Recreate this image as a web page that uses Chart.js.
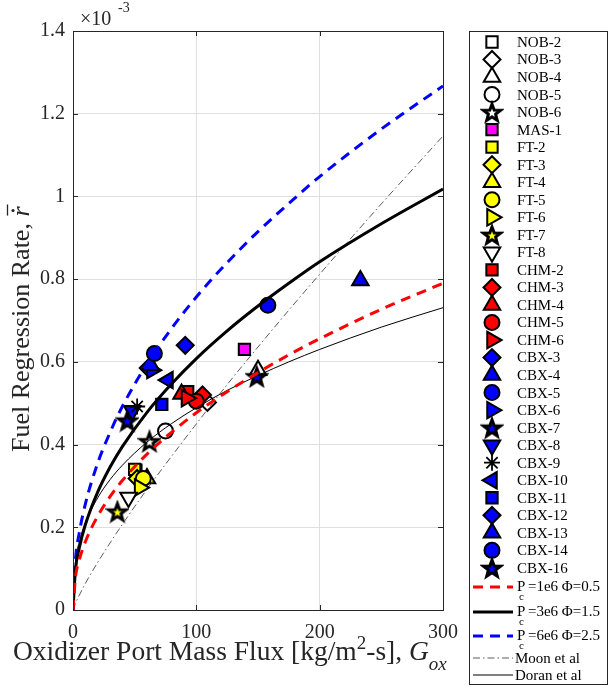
<!DOCTYPE html>
<html>
<head>
<meta charset="utf-8">
<script src="https://cdn.jsdelivr.net/npm/chart.js@4.4.0/dist/chart.umd.min.js"></script>
<style>
  html, body { margin: 0; padding: 0; background: #fff; }
  canvas { display: block; }
</style>
</head>
<body>
<canvas id="rateChart" width="610" height="688"></canvas>
<script>
// test cases (regression rate in 1e-3 units)
const seriesNames = ['NOB-2', 'NOB-3', 'NOB-4', 'NOB-5', 'NOB-6', 'MAS-1',
    'FT-2', 'FT-3', 'FT-4', 'FT-5', 'FT-6', 'FT-7', 'FT-8',
    'CHM-2', 'CHM-3', 'CHM-4', 'CHM-5', 'CHM-6',
    'CBX-3', 'CBX-4', 'CBX-5', 'CBX-6', 'CBX-7', 'CBX-8', 'CBX-9', 'CBX-10',
    'CBX-11', 'CBX-12', 'CBX-13', 'CBX-14', 'CBX-16'];
const seriesFlux = [51, 109, 150, 75, 62, 139,
    50, 52, 60, 57, 54, 36, 45,
    93, 105, 88, 100, 92,
    61, 233, 158, 64, 149, 48, 52, 77,
    72, 91, 63, 66, 44];
const seriesRate = [0.338, 0.502, 0.580, 0.433, 0.408, 0.630,
    0.340, 0.318, 0.318, 0.318, 0.296, 0.238, 0.272,
    0.528, 0.520, 0.522, 0.505, 0.512,
    0.585, 0.797, 0.737, 0.580, 0.565, 0.482, 0.492, 0.556,
    0.497, 0.640, 0.592, 0.620, 0.458];

// model curves
const curveLabels = ['P_c =1e6 \u03A6=0.5', 'P_c =3e6 \u03A6=1.5', 'P_c =6e6 \u03A6=2.5', 'Moon et al', 'Doran et al'];
const curveFlux = [0, 2, 5, 10, 20, 30, 40, 60, 80, 100, 125, 150, 175, 200, 250, 300];
const rate1e6 = [0, 0.079, 0.120, 0.165, 0.227, 0.274, 0.313, 0.377, 0.430, 0.477, 0.528, 0.574, 0.617, 0.656, 0.727, 0.790];
const rate3e6 = [0, 0.097, 0.149, 0.206, 0.285, 0.345, 0.395, 0.478, 0.547, 0.608, 0.675, 0.735, 0.790, 0.842, 0.934, 1.018];
const rate6e6 = [0, 0.121, 0.185, 0.256, 0.355, 0.429, 0.492, 0.595, 0.681, 0.757, 0.840, 0.915, 0.983, 1.048, 1.163, 1.267];
const rateMoon = [0, 0.016, 0.035, 0.064, 0.115, 0.162, 0.207, 0.292, 0.372, 0.450, 0.545, 0.636, 0.725, 0.812, 0.982, 1.146];
const rateDoran = [0, 0.117, 0.163, 0.210, 0.271, 0.315, 0.350, 0.406, 0.451, 0.489, 0.531, 0.567, 0.600, 0.630, 0.684, 0.731];

// axes
const xTicks = [0, 100, 200, 300];
const xTickLabels = ['0', '100', '200', '300'];
const yTicks = [0, 0.2, 0.4, 0.6, 0.8, 1.0, 1.2, 1.4];
const yTickLabels = ['0', '0.2', '0.4', '0.6', '0.8', '1', '1.2', '1.4'];

// marker look per series
const markerKind = ['square', 'diamond', 'triangle', 'circle', 'star', 'square',
    'square', 'diamond', 'triangle', 'circle', 'right', 'star', 'down',
    'square', 'diamond', 'triangle', 'circle', 'right',
    'diamond', 'triangle', 'circle', 'right', 'star', 'down', 'asterisk', 'left',
    'square', 'diamond', 'triangle', 'circle', 'star'];
const markerFace = ['#ffffff', '#ffffff', '#ffffff', '#ffffff', '#ffffff', '#ff00ff',
    '#ffff00', '#ffff00', '#ffff00', '#ffff00', '#ffff00', '#ffff00', '#ffffff',
    '#ff0000', '#ff0000', '#ff0000', '#ff0000', '#ff0000',
    '#0000ff', '#0000ff', '#0000ff', '#0000ff', '#0000ff', '#0000ff', '#000000', '#0000ff',
    '#0000ff', '#0000ff', '#0000ff', '#0000ff', '#0000ff'];

const serif = "'Liberation Serif', 'Times New Roman', serif";

function makeStar(fill) {
    const size = 24;
    const c = document.createElement('canvas');
    c.width = size;
    c.height = size;
    const g = c.getContext('2d');
    const R = 9, r = R * 0.42, cx = size / 2, cy = size / 2 + 1;
    g.beginPath();
    for (let i = 0; i < 10; i++) {
        const ang = -Math.PI / 2 + i * Math.PI / 5;
        const rad = i % 2 ? r : R;
        g.lineTo(cx + rad * Math.cos(ang), cy + rad * Math.sin(ang));
    }
    g.closePath();
    g.fillStyle = fill;
    g.fill();
    g.lineWidth = 3;
    g.lineJoin = 'miter';
    g.strokeStyle = '#000';
    g.stroke();
    return c;
}

function markerStyle(kind, face) {
    switch (kind) {
        case 'square': return { style: 'rect', rot: 0, radius: 8 };
        case 'diamond': return { style: 'rectRot', rot: 0, radius: 8.5 };
        case 'triangle': return { style: 'triangle', rot: 0, radius: 9.5 };
        case 'down': return { style: 'triangle', rot: 180, radius: 9.5 };
        case 'right': return { style: 'triangle', rot: 90, radius: 9.5 };
        case 'left': return { style: 'triangle', rot: 270, radius: 9.5 };
        case 'circle': return { style: 'circle', rot: 0, radius: 7.5 };
        case 'star': return { style: makeStar(face), rot: 0, radius: 10 };
        case 'asterisk': return { style: 'star', rot: 0, radius: 8 };
    }
}

const pointSets = seriesNames.map(function (name, i) {
    const m = markerStyle(markerKind[i], markerFace[i]);
    return {
        type: 'scatter',
        label: name,
        data: [{ x: seriesFlux[i], y: seriesRate[i] }],
        pointStyle: m.style,
        pointRotation: m.rot,
        pointRadius: m.radius,
        pointBackgroundColor: markerFace[i],
        pointBorderColor: '#000000',
        pointBorderWidth: markerKind[i] === 'asterisk' ? 1.8 : 2,
        order: 100 - i // later series sit on top
    };
});

const curveRates = [rate1e6, rate3e6, rate6e6, rateMoon, rateDoran];
const curveLook = [
    { color: '#ff0000', width: 3, dash: [10, 7] },
    { color: '#000000', width: 3, dash: [] },
    { color: '#0000ff', width: 3, dash: [10, 7] },
    { color: '#333333', width: 0.8, dash: [7, 3, 1.5, 3] },
    { color: '#000000', width: 1, dash: [] }
];
const curveSets = curveLabels.map(function (label, k) {
    return {
        type: 'line',
        label: label,
        data: curveFlux.map((g, j) => ({ x: g, y: curveRates[k][j] })),
        borderColor: curveLook[k].color,
        borderWidth: curveLook[k].width,
        borderDash: curveLook[k].dash,
        pointRadius: 0,
        fill: false,
        cubicInterpolationMode: 'monotone',
        order: -10 + k
    };
});

// box, inward ticks, axis titles, exponent and legend
const matlabFrame = {
    id: 'matlabFrame',
    afterDraw(chart) {
        const ctx = chart.ctx;
        const a = chart.chartArea;
        const xs = chart.scales.x, ys = chart.scales.y;
        ctx.save();
        ctx.strokeStyle = '#262626';
        ctx.lineWidth = 1;
        ctx.setLineDash([]);
        ctx.strokeRect(Math.round(a.left) + 0.5, Math.round(a.top) + 0.5,
            Math.round(a.right - a.left), Math.round(a.bottom - a.top));
        ctx.beginPath();
        xTicks.forEach(v => {
            const px = Math.round(xs.getPixelForValue(v)) + 0.5;
            ctx.moveTo(px, a.bottom); ctx.lineTo(px, a.bottom - 5);
            ctx.moveTo(px, a.top); ctx.lineTo(px, a.top + 5);
        });
        yTicks.forEach(v => {
            const py = Math.round(ys.getPixelForValue(v)) + 0.5;
            ctx.moveTo(a.left, py); ctx.lineTo(a.left + 5, py);
            ctx.moveTo(a.right, py); ctx.lineTo(a.right - 5, py);
        });
        ctx.stroke();

        // exponent label
        ctx.fillStyle = '#262626';
        ctx.textBaseline = 'alphabetic';
        ctx.textAlign = 'left';
        ctx.font = '20px ' + serif;
        ctx.fillText('\u00D710', 80, 25);
        ctx.font = '14px ' + serif;
        ctx.fillText('-3', 118, 12);

        // x title
        let x = 13;
        const xb = 660;
        const part = (txt, size, dy, italic) => {
            ctx.font = (italic ? 'italic ' : '') + size + 'px ' + serif;
            ctx.fillText(txt, x, xb + dy);
            x += ctx.measureText(txt).width;
        };
        part('Oxidizer Port Mass Flux [kg/m', 27.5, 0, false);
        part('2', 19, -11, false);
        part('-s], ', 27.5, 0, false);
        part('G', 27.5, 0, true);
        part('ox', 19, 10, true);

        // y title (rotated)
        ctx.save();
        ctx.translate(29, 452);
        ctx.rotate(-Math.PI / 2);
        ctx.font = '26px ' + serif;
        const lead = 'Fuel Regression Rate, ';
        ctx.fillText(lead, 0, 0);
        const w0 = ctx.measureText(lead).width;
        ctx.font = 'italic 26px ' + serif;
        ctx.fillText('r', w0, 0);
        const wr = ctx.measureText('r').width;
        ctx.beginPath();
        ctx.arc(w0 + wr * 0.6, -16, 1.6, 0, Math.PI * 2);
        ctx.fill();
        ctx.lineWidth = 1.3;
        ctx.beginPath();
        ctx.moveTo(w0 + 1, -21.5);
        ctx.lineTo(w0 + wr + 2, -21.5);
        ctx.stroke();
        ctx.restore();

        // legend
        ctx.strokeStyle = '#262626';
        ctx.lineWidth = 1;
        ctx.strokeRect(469.5, 31.5, 138, 653);
        const mx = 492, tx = 517;
        chart.data.datasets.forEach(function (ds, i) {
            if (ds.type !== 'scatter') return;
            const y = 42 + i * 17.53;
            ctx.save();
            ctx.fillStyle = ds.pointBackgroundColor;
            ctx.strokeStyle = ds.pointBorderColor;
            ctx.lineWidth = ds.pointBorderWidth;
            Chart.helpers.drawPoint(ctx, {
                pointStyle: ds.pointStyle,
                rotation: ds.pointRotation,
                radius: ds.pointRadius,
                borderWidth: ds.pointBorderWidth
            }, mx, y);
            ctx.restore();
            ctx.fillStyle = '#000';
            ctx.font = '15px ' + serif;
            ctx.textBaseline = 'middle';
            ctx.fillText(ds.label, tx, y + 1);
        });
        const rowY = [587, 612, 636, 658, 675];
        curveSets.forEach(function (ds, k) {
            const y = rowY[k];
            ctx.save();
            ctx.strokeStyle = ds.borderColor;
            ctx.lineWidth = ds.borderWidth;
            ctx.setLineDash(ds.borderDash);
            ctx.beginPath();
            ctx.moveTo(473, y);
            ctx.lineTo(513, y);
            ctx.stroke();
            ctx.restore();
            ctx.fillStyle = '#000';
            ctx.textBaseline = 'middle';
            ctx.font = '15px ' + serif;
            if (ds.label.startsWith('P_c')) {
                ctx.fillText('P', tx, y);
                ctx.font = '11px ' + serif;
                ctx.fillText('c', tx + 2, y + 10);
                ctx.font = '15px ' + serif;
                ctx.fillText(ds.label.slice(4), tx + 11, y);
            } else {
                ctx.fillText(ds.label, tx - 2, y + 1);
            }
        });
        ctx.restore();
    }
};

document.addEventListener('DOMContentLoaded', function () {
    const ctx = document.getElementById('rateChart').getContext('2d');
    new Chart(ctx, {
        type: 'scatter',
        data: { datasets: pointSets.concat(curveSets) },
        options: {
            responsive: false,
            animation: false,
            layout: { padding: { left: 0, right: 167, top: 31, bottom: 0 } },
            plugins: {
                legend: { display: false },
                tooltip: { enabled: false }
            },
            scales: {
                x: {
                    type: 'linear',
                    min: 0,
                    max: 300,
                    afterFit: s => { s.height = 78; },
                    afterBuildTicks: s => { s.ticks = xTicks.map(v => ({ value: v })); },
                    grid: { color: '#dfdfdf', drawTicks: false },
                    border: { display: false },
                    ticks: {
                        padding: 11,
                        color: '#262626',
                        font: { family: serif, size: 20 },
                        maxRotation: 0,
                        callback: (v, i) => xTickLabels[i]
                    }
                },
                y: {
                    type: 'linear',
                    min: 0,
                    max: 1.4,
                    afterFit: s => { s.width = 73; },
                    afterBuildTicks: s => { s.ticks = yTicks.map(v => ({ value: v })); },
                    grid: { color: '#dfdfdf', drawTicks: false },
                    border: { display: false },
                    ticks: {
                        padding: 8,
                        color: '#262626',
                        font: { family: serif, size: 20 },
                        callback: (v, i) => yTickLabels[i]
                    }
                }
            }
        },
        plugins: [matlabFrame]
    });
});
</script>
</body>
</html>
